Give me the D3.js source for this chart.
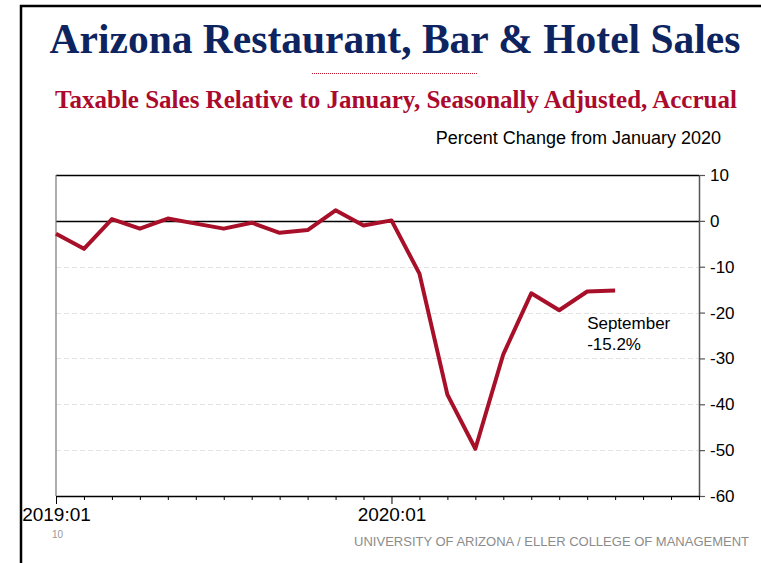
<!DOCTYPE html>
<html>
<head>
<meta charset="utf-8">
<script src="https://cdn.jsdelivr.net/npm/d3@7"></script>
<style>
  html, body { margin: 0; padding: 0; background: #fff; }
  svg { display: block; }
</style>
</head>
<body>
<svg id="chart" width="761" height="563"></svg>
<script>
// months on the axis (2019:01 .. 2020:12), data runs through 2020:09
const months = [
  "2019:01", "2019:02", "2019:03", "2019:04", "2019:05", "2019:06",
  "2019:07", "2019:08", "2019:09", "2019:10", "2019:11", "2019:12",
  "2020:01", "2020:02", "2020:03", "2020:04", "2020:05", "2020:06",
  "2020:07", "2020:08", "2020:09", "2020:10", "2020:11", "2020:12"
];
const sales = [
  -2.8, -6.1, 0.4, -1.7, 0.5, -0.6, -1.7, -0.4, -2.6, -2.0, 2.3, -1.0,
  0.1, -11.5, -37.9, -49.7, -29.1, -15.8, -19.5, -15.4, -15.2
];
const yTicks = [10, 0, -10, -20, -30, -40, -50, -60];
const gridTicks = [-10, -20, -30, -40, -50];
const xLabels = ["2019:01", "2020:01"];

const svg = d3.select('#chart');
const sans = "'Liberation Sans', Arial, sans-serif";
const serif = "'Liberation Serif', 'Times New Roman', serif";
const fmt = v => String(v); // plain hyphen minus like the original

// slide frame
svg.append('rect')
  .attr('x', 21).attr('y', 6)
  .attr('width', 800).attr('height', 600)
  .attr('fill', 'none').attr('stroke', '#000').attr('stroke-width', 2.5);

svg.append('text')
  .attr('x', 395).attr('y', 53)
  .attr('text-anchor', 'middle')
  .style('font-family', serif).style('font-weight', 'bold')
  .style('font-size', '41.5px').style('fill', '#0d2460')
  .text('Arizona Restaurant, Bar & Hotel Sales');

svg.append('line')
  .attr('x1', 312).attr('x2', 478).attr('y1', 73.5).attr('y2', 73.5)
  .attr('stroke', '#c0182f').attr('stroke-width', 1)
  .attr('stroke-dasharray', '1,1');

svg.append('text')
  .attr('x', 396).attr('y', 108)
  .attr('text-anchor', 'middle')
  .style('font-family', serif).style('font-weight', 'bold')
  .style('font-size', '25px').style('fill', '#ab0a2e')
  .text('Taxable Sales Relative to January, Seasonally Adjusted, Accrual');

svg.append('text')
  .attr('x', 721).attr('y', 144)
  .attr('text-anchor', 'end')
  .style('font-family', sans).style('font-size', '18px').style('fill', '#000')
  .text('Percent Change from January 2020');

const x = d3.scaleLinear().domain([0, months.length - 1]).range([56, 699]);
const y = d3.scaleLinear().domain([-60, 10]).range([496, 175]);

// dashed grid
svg.append('g')
  .selectAll('line')
  .data(gridTicks)
  .join('line')
  .attr('x1', x(0)).attr('x2', x(months.length - 1))
  .attr('y1', d => Math.round(y(d)) + 0.5).attr('y2', d => Math.round(y(d)) + 0.5)
  .attr('stroke', '#e3e3e3').attr('stroke-width', 1)
  .attr('stroke-dasharray', '5,3');

// top border and zero line
svg.append('line')
  .attr('x1', x(0)).attr('x2', x(months.length - 1))
  .attr('y1', Math.round(y(10)) + 0.5).attr('y2', Math.round(y(10)) + 0.5)
  .attr('stroke', '#000').attr('stroke-width', 1.3);
svg.append('line')
  .attr('x1', x(0)).attr('x2', x(months.length - 1))
  .attr('y1', Math.round(y(0)) + 0.5).attr('y2', Math.round(y(0)) + 0.5)
  .attr('stroke', '#000').attr('stroke-width', 1.3);
// left edge
svg.append('line')
  .attr('x1', x(0)).attr('x2', x(0))
  .attr('y1', y(10)).attr('y2', y(-60))
  .attr('stroke', '#777').attr('stroke-width', 1.2);

// right axis
const yAxis = svg.append('g')
  .attr('transform', `translate(${x(months.length - 1)},0)`)
  .call(d3.axisRight(y).tickValues(yTicks).tickSize(6).tickPadding(5).tickSizeOuter(0)
    .tickFormat(fmt));
yAxis.select('.domain').attr('stroke', '#555').attr('stroke-width', 1.5);
yAxis.selectAll('.tick line').attr('stroke', '#555').attr('stroke-width', 1.2);
yAxis.selectAll('.tick text')
  .style('font-family', sans).style('font-size', '17px').style('fill', '#000');

// bottom axis, every month ticked, labels on January only
const xAxis = svg.append('g')
  .attr('transform', `translate(0,${y(-60)})`)
  .call(d3.axisBottom(x).tickValues(d3.range(months.length)).tickSize(4).tickSizeOuter(0)
    .tickFormat(i => xLabels.includes(months[i]) ? months[i] : ''));
xAxis.select('.domain').attr('stroke', '#000').attr('stroke-width', 1.5);
xAxis.selectAll('.tick line')
  .attr('stroke', '#000').attr('stroke-width', 1)
  .attr('y2', i => xLabels.includes(months[i]) ? 8 : 4);
xAxis.selectAll('.tick text')
  .attr('y', 12)
  .style('font-family', sans).style('font-size', '19px').style('fill', '#000');

// series
const line = d3.line().x((d, i) => x(i)).y(d => y(d));
svg.append('path')
  .datum(sales)
  .attr('d', line)
  .attr('fill', 'none')
  .attr('stroke', '#a8102a')
  .attr('stroke-width', 4)
  .attr('stroke-linejoin', 'round');

// annotation
const last = sales.length - 1;
const note = svg.append('text')
  .attr('x', x(last) - 28).attr('y', y(sales[last]) + 38)
  .style('font-family', sans).style('font-size', '17px').style('fill', '#000');
note.append('tspan').text('September');
note.append('tspan').attr('x', x(last) - 28).attr('dy', 21)
  .text(sales[last].toFixed(1) + '%');

// footer
svg.append('text')
  .attr('x', 52).attr('y', 538)
  .style('font-family', sans).style('font-size', '10px').style('fill', '#999')
  .text('10');
svg.append('text')
  .attr('x', 749).attr('y', 546)
  .attr('text-anchor', 'end')
  .style('font-family', sans).style('font-size', '13px').style('fill', '#8c8c8c')
  .text('UNIVERSITY OF ARIZONA / ELLER COLLEGE OF MANAGEMENT');
</script>
</body>
</html>
